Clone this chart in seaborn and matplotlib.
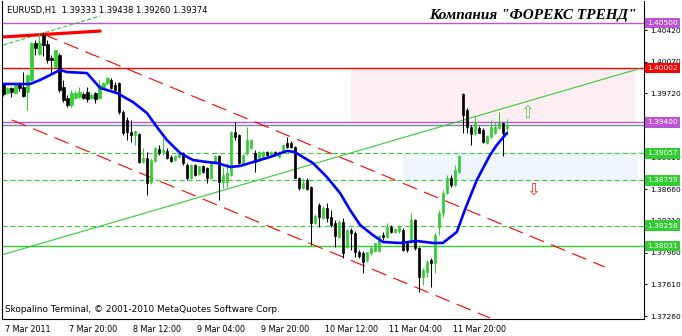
import numpy as np
import pandas as pd
import matplotlib
matplotlib.use("Agg")
import matplotlib.pyplot as plt
import matplotlib.transforms as mtransforms
import seaborn as sns

# ---------------- data ----------------
symbol = "EURUSD,H1"
header_ohlc = [1.39333, 1.39438, 1.39260, 1.39374]

opens = [
    1.3982, 1.3972, 1.3978, 1.3972, 1.3982, 1.3979, 1.3974, 1.3987, 1.4028, 1.4016,
    1.4037, 1.4027, 1.4011, 1.4001, 1.4014, 1.3979, 1.3967, 1.3959, 1.3967, 1.3968,
    1.3971, 1.3974, 1.3967, 1.3972, 1.3967, 1.3978, 1.3984, 1.3987, 1.3981, 1.3984,
    1.3951, 1.3943, 1.3929, 1.3926, 1.3927, 1.3896, 1.3901, 1.3874, 1.3897, 1.3911,
    1.3907, 1.3908, 1.3902, 1.3898, 1.3902, 1.3906, 1.3893, 1.3879, 1.3893, 1.3883,
    1.3892, 1.3890, 1.3879, 1.3895, 1.3903, 1.3874, 1.3874, 1.3882, 1.3929, 1.3926,
    1.3895, 1.3906, 1.3912, 1.3906, 1.3898, 1.3902, 1.3907, 1.3904, 1.3907, 1.3902,
    1.3907, 1.3917, 1.3917, 1.3913, 1.3879, 1.3867, 1.3876, 1.3869, 1.3829, 1.3849,
    1.3834, 1.3845, 1.3835, 1.3829, 1.3813, 1.3830, 1.3802, 1.3821, 1.3818, 1.3797,
    1.3796, 1.3788, 1.3796, 1.3798, 1.3798, 1.3816, 1.3813, 1.3824, 1.3819, 1.3820,
    1.3821, 1.3807, 1.3808, 1.3832, 1.3801, 1.3769, 1.3775, 1.3788, 1.3785, 1.3824,
    1.3840, 1.3862, 1.3879, 1.3871, 1.3885, 1.3971, 1.3954, 1.3935, 1.3928, 1.3934,
    1.3932, 1.3917, 1.3924, 1.3928, 1.3934, 1.3939, 1.39333]
highs = [
    1.3984, 1.3979, 1.3979, 1.3984, 1.3984, 1.3996, 1.3993, 1.4029, 1.4031, 1.4039,
    1.4040, 1.4031, 1.4014, 1.4020, 1.4017, 1.3987, 1.3970, 1.3976, 1.3975, 1.3979,
    1.3974, 1.3979, 1.3972, 1.3974, 1.3987, 1.3985, 1.3990, 1.3989, 1.3985, 1.3985,
    1.3954, 1.3946, 1.3943, 1.3932, 1.3928, 1.3912, 1.3907, 1.3901, 1.3913, 1.3915,
    1.3923, 1.3912, 1.3904, 1.3904, 1.3907, 1.3907, 1.3895, 1.3894, 1.3894, 1.3892,
    1.3893, 1.3891, 1.3896, 1.3904, 1.3904, 1.3891, 1.3895, 1.3930, 1.3940, 1.3927,
    1.3905, 1.3935, 1.3922, 1.3909, 1.3908, 1.3908, 1.3908, 1.3908, 1.3908, 1.3908,
    1.3915, 1.3924, 1.3919, 1.3914, 1.3880, 1.3878, 1.3878, 1.3870, 1.3839, 1.3851,
    1.3848, 1.3851, 1.3843, 1.3832, 1.3832, 1.3834, 1.3822, 1.3823, 1.3820, 1.3799,
    1.3798, 1.3797, 1.3803, 1.3807, 1.3816, 1.3819, 1.3829, 1.3827, 1.3823, 1.3827,
    1.3823, 1.3808, 1.3840, 1.3833, 1.3802, 1.3779, 1.3788, 1.3790, 1.3818, 1.3843,
    1.3865, 1.3882, 1.3882, 1.3893, 1.3904, 1.3972, 1.3956, 1.3937, 1.3946, 1.3936,
    1.3934, 1.3926, 1.3943, 1.3940, 1.3951, 1.3940, 1.39438]
lows = [
    1.3969, 1.3971, 1.3968, 1.3971, 1.3975, 1.3968, 1.3954, 1.3986, 1.4014, 1.4014,
    1.4013, 1.4006, 1.3995, 1.4000, 1.3974, 1.3963, 1.3957, 1.3957, 1.3966, 1.3967,
    1.3966, 1.3963, 1.3966, 1.3961, 1.3966, 1.3977, 1.3981, 1.3977, 1.3974, 1.3949,
    1.3926, 1.3921, 1.3918, 1.3915, 1.3895, 1.3895, 1.3860, 1.3872, 1.3896, 1.3904,
    1.3904, 1.3900, 1.3896, 1.3897, 1.3901, 1.3893, 1.3876, 1.3877, 1.3881, 1.3882,
    1.3884, 1.3873, 1.3877, 1.3894, 1.3854, 1.3868, 1.3869, 1.3881, 1.3921, 1.3894,
    1.3894, 1.3904, 1.3911, 1.3885, 1.3897, 1.3901, 1.3903, 1.3903, 1.3903, 1.3901,
    1.3906, 1.3912, 1.3912, 1.3878, 1.3865, 1.3866, 1.3865, 1.3804, 1.3828, 1.3824,
    1.3833, 1.3830, 1.3824, 1.3802, 1.3812, 1.3790, 1.3801, 1.3799, 1.3791, 1.3790,
    1.3774, 1.3786, 1.3793, 1.3797, 1.3797, 1.3810, 1.3812, 1.3818, 1.3818, 1.3818,
    1.3798, 1.3797, 1.3807, 1.3799, 1.3752, 1.3760, 1.3769, 1.3758, 1.3774, 1.3816,
    1.3835, 1.3861, 1.3869, 1.3870, 1.3884, 1.3928, 1.3928, 1.3915, 1.3926, 1.3928,
    1.3917, 1.3916, 1.3923, 1.3927, 1.3933, 1.3903, 1.39260]
closes = [
    1.3971, 1.3978, 1.3974, 1.3982, 1.3978, 1.3969, 1.3992, 1.4028, 1.4022, 1.4028,
    1.4026, 1.4009, 1.4009, 1.4020, 1.3976, 1.3965, 1.3959, 1.3972, 1.3972, 1.3974,
    1.3967, 1.3966, 1.3970, 1.3966, 1.3981, 1.3984, 1.3989, 1.3978, 1.3976, 1.3951,
    1.3928, 1.3929, 1.3926, 1.3930, 1.3896, 1.3901, 1.3873, 1.3898, 1.3912, 1.3906,
    1.3910, 1.3901, 1.3897, 1.3903, 1.3906, 1.3895, 1.3879, 1.3893, 1.3882, 1.3892,
    1.3885, 1.3879, 1.3895, 1.3903, 1.3874, 1.3882, 1.3884, 1.3929, 1.3924, 1.3895,
    1.3904, 1.3921, 1.3921, 1.3896, 1.3907, 1.3907, 1.3904, 1.3907, 1.3904, 1.3907,
    1.3915, 1.3913, 1.3913, 1.3879, 1.3867, 1.3873, 1.3866, 1.3829, 1.3837, 1.3835,
    1.3845, 1.3834, 1.3827, 1.3814, 1.3830, 1.3796, 1.3821, 1.3818, 1.3797, 1.3792,
    1.3786, 1.3797, 1.3801, 1.3807, 1.3814, 1.3813, 1.3824, 1.3819, 1.3822, 1.3824,
    1.3799, 1.3799, 1.3832, 1.3801, 1.3769, 1.3777, 1.3786, 1.3785, 1.3816, 1.3840,
    1.3862, 1.3879, 1.3871, 1.3887, 1.3903, 1.3948, 1.3935, 1.3927, 1.3940, 1.3928,
    1.3918, 1.3925, 1.3935, 1.3935, 1.3939, 1.3928, 1.39374]

# moving average (bar index, price)
ma_bar = [0, 6.7, 9.2, 11.7, 14.2, 15.9, 20.9, 24.2, 28.4, 32.4, 35.9, 38.4, 40.9,
          44.2, 47.4, 50.9, 53.4, 56.7, 59.2, 61.7, 66.7, 70.9, 72.9, 74.9, 77.4,
          80.9, 84.2, 86.7, 89.2, 92.4, 94.9, 99.2, 103.4, 107.4, 109.9, 113.4,
          115.4, 118.4, 121.7, 123.4, 125.9]
ma_price = [1.39824, 1.39824, 1.39868, 1.39923, 1.39979, 1.39956, 1.39945, 1.39780,
            1.39724, 1.39625, 1.39503, 1.39349, 1.39205, 1.39061, 1.38984, 1.38962,
            1.38951, 1.38907, 1.38918, 1.38951, 1.39017, 1.39084, 1.39072, 1.39017,
            1.38951, 1.38796, 1.38619, 1.38432, 1.38266, 1.38155, 1.38078, 1.38067,
            1.38089, 1.38067, 1.38067, 1.38189, 1.38432, 1.38763, 1.39039, 1.39150,
            1.39282]

xtick_bars = [0, 16, 32, 48, 64, 80, 96, 112]
xtick_labels = ["7 Mar 2011", "7 Mar 20:00", "8 Mar 12:00", "9 Mar 04:00",
                "9 Mar 20:00", "10 Mar 12:00", "11 Mar 04:00", "11 Mar 20:00"]
ytick_values = [1.40420, 1.40070, 1.39720, 1.39370, 1.39010, 1.38660,
                1.38310, 1.37960, 1.37610, 1.37260]

level_prices = [1.40500, 1.40002, 1.39400, 1.39057, 1.38759, 1.38258, 1.38031]
level_colors = ["#BA55D3", "#FF0000", "#BA55D3", "#32CD32", "#32CD32", "#32CD32", "#32CD32"]
level_dashed = [False, False, False, True, True, True, False]
bid_price = 1.39374

# zones: (bar from, bar to, price low, price high)
zone_pink = [86.9, 157.9, 1.39400, 1.40002]
zone_blue = [100.0, 158.7, 1.38759, 1.39057]

# trend lines: bars and prices of the two anchors
green_main_bars, green_main_prices = [-0.4, 159.0], [1.37935, 1.39993]
green_top_bars, green_top_prices = [0.0, 24.2], [1.40255, 1.40575]
red_thick_bars, red_thick_prices = [-0.3, 24.2], [1.40343, 1.40409]
red_up_bars, red_up_prices = [9.9, 150.4], [1.40376, 1.37802]
red_low_bars, red_low_prices = [2.2, 121.7], [1.39426, 1.37238]

# ---------------- style ----------------
sns.set_style("white")
plt.rcParams["font.family"] = ["DejaVu Sans"]
plt.rcParams["lines.scale_dashes"] = False

GREEN = "#32CD32"

fig = plt.figure(figsize=(6.82, 3.36), dpi=100)
ax = fig.add_axes([2 / 682, 17 / 336, 642 / 682, 318 / 336])
ax.set_facecolor("white")

df = pd.DataFrame({"bar": np.arange(len(opens)), "open": opens, "high": highs,
                   "low": lows, "close": closes})
assert len(opens) == len(highs) == len(lows) == len(closes)
df["bull"] = df["close"] >= df["open"]
cols = np.where(df["bull"], GREEN, "black")

# zones
for z, c in [(zone_pink, "#FDEEF2"), (zone_blue, "#EEF5FD")]:
    ax.fill_between([z[0], z[1]], z[2], z[3], color=c, lw=0, zorder=0)

# horizontal levels
for p, c, d in zip(level_prices, level_colors, level_dashed):
    ax.axhline(p, color=c, lw=1.0 if not d else 0.8,
               ls=(0, (3.6, 2.2)) if d else "-", zorder=1)
ax.axhline(bid_price, color="#778899", lw=1.0, zorder=1)

# trend lines
sns.lineplot(x=green_main_bars, y=green_main_prices, color=GREEN, lw=0.8, ax=ax, zorder=2)
sns.lineplot(x=green_top_bars, y=green_top_prices, color=GREEN, lw=0.8, ax=ax, zorder=2,
             linestyle=(0, (3.0, 1.5)))
sns.lineplot(x=red_thick_bars, y=red_thick_prices, color="#FF0000", lw=2.3, ax=ax, zorder=2)
for bx, py in [(red_up_bars, red_up_prices), (red_low_bars, red_low_prices)]:
    sns.lineplot(x=bx, y=py, color="#FF0000", lw=0.8, ax=ax, zorder=2,
                 linestyle=(0, (11.0, 5.5)))

# candles
ax.vlines(df["bar"], df["low"], df["high"], colors=cols, lw=0.75, zorder=3)
body_lo = np.minimum(df["open"], df["close"])
body_h = np.maximum((df["close"] - df["open"]).abs(), 0.00003)
ax.bar(df["bar"], body_h, bottom=body_lo, width=0.6, color=cols, edgecolor=cols,
       linewidth=0.5, zorder=4)

# moving average
sns.lineplot(x=ma_bar, y=ma_price, color="#0000FF", lw=1.9, ax=ax, zorder=5, sort=False)

# arrows
ax.text(130.9, 1.39503, "\u21e7", color="#5CC85C", fontsize=12, ha="center", va="center", zorder=6)
ax.text(132.4, 1.38653, "\u21e9", color="#FF3030", fontsize=12, ha="center", va="center", zorder=6)

# axes limits
ax.set_xlim(-0.33, 160.2)
ax.set_ylim(1.37227, 1.40741)

# ticks
ax.yaxis.tick_right()
ax.set_yticks(ytick_values)
ax.set_yticklabels([f"{v:.5f}" for v in ytick_values])
ax.set_xticks(xtick_bars)
ax.set_xticklabels(xtick_labels)
ax.tick_params(axis="both", direction="out", length=2.5, width=0.7, colors="black",
               labelsize=5.8, pad=1.5)
ax.tick_params(axis="y", pad=1.8, labelsize=5.4)
offset = mtransforms.ScaledTranslation(1.5 / 100, 0, fig.dpi_scale_trans)
for lbl in ax.get_xticklabels():
    lbl.set_horizontalalignment("left")
    lbl.set_transform(lbl.get_transform() + offset)

for s in ["left", "bottom", "right"]:
    ax.spines[s].set_visible(True)
    ax.spines[s].set_color("black")
    ax.spines[s].set_linewidth(0.8)
ax.spines["top"].set_visible(False)
ax.grid(False)

# price labels on the right
trans = mtransforms.blended_transform_factory(ax.transAxes, ax.transData)
for p, c in zip(level_prices, level_colors):
    ax.text(1.0 + 3 / 642, p, f"{p:.5f}", transform=trans, ha="left", va="center",
            color="white", fontsize=5.4, clip_on=False, zorder=10,
            bbox=dict(boxstyle="square,pad=0.3", fc=c, ec="none"))

# texts
ax.text(5 / 642, 1 - 9 / 318,
        f"{symbol}  " + " ".join(f"{v:.5f}" for v in header_ohlc),
        transform=ax.transAxes, ha="left", va="center", fontsize=6, color="black", zorder=10)
ax.text(635 / 642, 1 - 14 / 318, "Компания \"ФОРЕКС ТРЕНД\"", transform=ax.transAxes,
        ha="right", va="center", fontsize=11, color="black", zorder=10,
        family=["Liberation Serif", "DejaVu Serif"], fontweight="bold", fontstyle="italic")
ax.text(3 / 642, 9 / 318, "Skopalino Terminal, \u00a9 2001-2010 MetaQuotes Software Corp.",
        transform=ax.transAxes, ha="left", va="center", fontsize=6.4, color="black", zorder=10)

fig.savefig("out.png", dpi=100, facecolor="white")
